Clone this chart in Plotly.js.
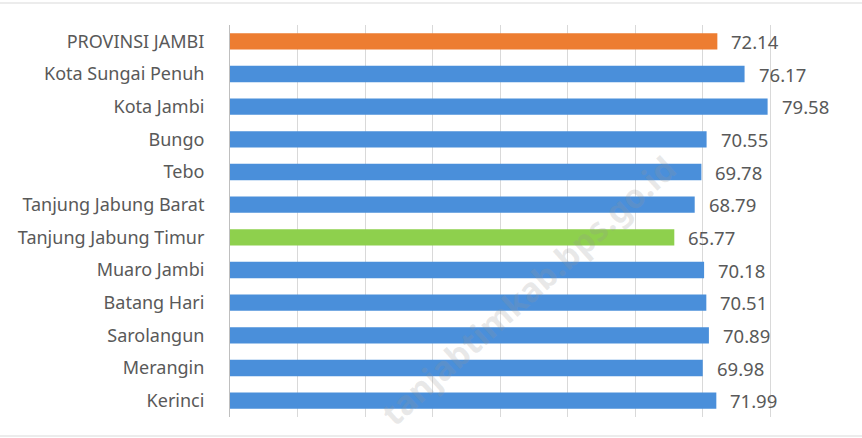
<!DOCTYPE html>
<html>
<head>
<meta charset="utf-8">
<script src="https://cdn.plot.ly/plotly-3.0.1.min.js"></script>
<style>html,body{margin:0;padding:0;background:#fff;}#chart{width:862px;height:438px;}</style>
</head>
<body>
<div id="chart"></div>
<script>
const categories = ["PROVINSI JAMBI","Kota Sungai Penuh","Kota Jambi","Bungo","Tebo","Tanjung Jabung Barat","Tanjung Jabung Timur","Muaro Jambi","Batang Hari","Sarolangun","Merangin","Kerinci"];
const values = [72.14, 76.17, 79.58, 70.55, 69.78, 68.79, 65.77, 70.18, 70.51, 70.89, 69.98, 71.99];
const valueLabels = ["72.14","76.17","79.58","70.55","69.78","68.79","65.77","70.18","70.51","70.89","69.98","71.99"];
const barColors = ["#ED7D31","#4A8FDA","#4A8FDA","#4A8FDA","#4A8FDA","#4A8FDA","#8ED04D","#4A8FDA","#4A8FDA","#4A8FDA","#4A8FDA","#4A8FDA"];
const watermark = "tanjabtimkab.bps.go.id";

const FONT = "Noto Sans, Open Sans, DejaVu Sans, sans-serif";

const trace = {
  type: "bar",
  orientation: "h",
  y: categories,
  x: values,
  width: 0.5,
  marker: {color: barColors, line: {width: 0}},
  hoverinfo: "skip"
};

const annotations = [{
  xref: "paper", yref: "paper",
  x: (528 - 230) / 608, y: (417 - 290) / 392,
  xanchor: "center", yanchor: "middle",
  text: "<b>" + watermark + "</b>", showarrow: false,
  textangle: -42,
  font: {family: FONT, size: 33, color: "rgba(150,150,150,0.22)"}
}];

values.forEach((v, i) => annotations.push({
  x: v, y: categories[i], xref: "x", yref: "y",
  text: valueLabels[i], showarrow: false,
  xanchor: "left", yanchor: "middle", xshift: 12,
  font: {family: FONT, size: 18.5, color: "#595959"}
}));

const layout = {
  width: 862, height: 438,
  margin: {l: 230, r: 24, t: 25, b: 21, pad: 0},
  paper_bgcolor: "#ffffff",
  plot_bgcolor: "#ffffff",
  showlegend: false,
  xaxis: {
    range: [0, 90], dtick: 10, showgrid: true, gridcolor: "#D9D9D9", gridwidth: 1,
    showticklabels: false, zeroline: false, showline: false, ticks: "", fixedrange: true
  },
  yaxis: {
    type: "category", autorange: "reversed", showgrid: false, zeroline: false,
    showline: true, linecolor: "#BFBFBF", linewidth: 1, ticks: "",
    ticklabelstandoff: 21,
    tickfont: {family: FONT, size: 18, color: "#595959"}, fixedrange: true
  },
  shapes: [
    {type: "line", xref: "paper", yref: "paper", x0: -230/608, x1: 632/608, y0: (417-3)/392, y1: (417-3)/392, line: {color: "#D9D9D9", width: 1}},
    {type: "line", xref: "paper", yref: "paper", x0: -230/608, x1: 632/608, y0: (417-436)/392, y1: (417-436)/392, line: {color: "#D9D9D9", width: 1}}
  ],
  annotations: annotations
};

Plotly.newPlot("chart", [trace], layout, {displayModeBar: false, staticPlot: true});
</script>
</body>
</html>
